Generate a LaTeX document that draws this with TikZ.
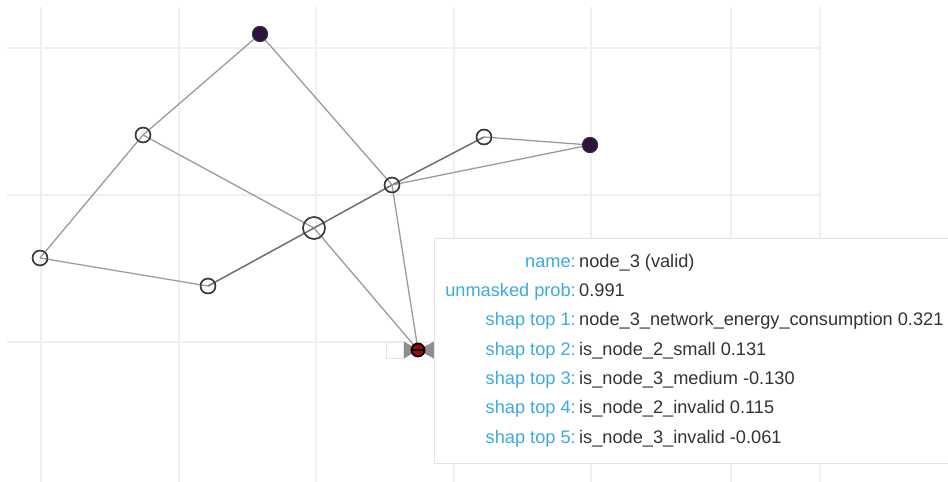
\documentclass[tikz,border=0pt]{standalone}
\usepackage{fontspec}
\setmainfont{Liberation Sans}
\definecolor{gridc}{HTML}{EFEFEF}
\definecolor{edgec}{HTML}{9A9A9A}
\definecolor{edged}{HTML}{6E6E6E}
\definecolor{nodec}{HTML}{3A3A3A}
\definecolor{darkn}{HTML}{2E1242}
\definecolor{labc}{HTML}{3DAAE0}
\definecolor{valc}{HTML}{333333}
\definecolor{tipb}{HTML}{E4E4E4}
\definecolor{selred}{HTML}{A00808}
\definecolor{bowc}{HTML}{8E8E8E}
\begin{document}
\begin{tikzpicture}[x=1pt,y=-1pt,
  gridline/.style={gridc,line width=2pt},
  edge/.style={edgec,line width=1.3pt},
  edgedark/.style={edged,line width=1.5pt},
  opennode/.style={circle,draw=nodec,line width=1.4pt,inner sep=0pt,minimum size=15pt},
  bignode/.style={circle,draw=nodec,line width=1.4pt,inner sep=0pt,minimum size=22pt},
  darknode/.style={circle,draw=black!80,fill=darkn,line width=1pt,inner sep=0pt,minimum size=15pt},
  lab/.style={anchor=base east,text=labc,font=\fontsize{18.2}{20}\selectfont,inner sep=0pt},
  val/.style={anchor=base west,text=valc,font=\fontsize{18.2}{20}\selectfont,inner sep=0pt}
]
\useasboundingbox (0,0) rectangle (948,482);
% grid
\foreach \gx in {41,179,316,454,591,731,820} \draw[gridline] (\gx,7) -- (\gx,482);
\foreach \gy in {48,195,342} \draw[gridline] (7,\gy) -- (820,\gy);
% nodes
\node[darknode] (n0) at (260,34) {};
\node[opennode] (n1) at (143,135) {};
\node[opennode] (n2) at (40,258) {};
\node[opennode] (n3) at (208,286) {};
\node[bignode] (n4) at (314,228) {};
\node[opennode] (n5) at (392,185) {};
\node[opennode] (n6) at (484,137) {};
\node[darknode] (n7) at (590,145) {};
\coordinate (sel) at (418,350);
% edges
\draw[edge] (n0.center) -- (n1.center);
\draw[edge] (n0.center) -- (n5.center);
\draw[edge] (n1.center) -- (n2.center);
\draw[edge] (n1.center) -- (n4.center);
\draw[edge] (n2.center) -- (n3.center);
\draw[edgedark] (n3.center) -- (n4.center);
\draw[edgedark] (n4.center) -- (n5.center);
\draw[edge] (n4.center) -- (sel);
\draw[edge] (n5.center) -- (sel);
\draw[edgedark] (n5.center) -- (n6.center);
\draw[edge] (n5.center) -- (n7.center);
\draw[edge] (n6.center) -- (n7.center);
% redraw nodes on top
\node[darknode] at (n0) {};
\node[opennode] at (n1) {};
\node[opennode] at (n2) {};
\node[opennode] at (n3) {};
\node[bignode] at (n4) {};
\node[opennode] at (n5) {};
\node[opennode] at (n6) {};
\node[darknode] at (n7) {};
% selected node
\node[draw=tipb,fill=white,line width=0.8pt,minimum width=17pt,minimum height=16pt,inner sep=0pt] (selbox) at (395,350) {};
\fill[bowc] (404,341.5) -- (418,350) -- (404,358.5) -- cycle;
\fill[bowc] (434,341.5) -- (418,350) -- (434,358.5) -- cycle;
\node[circle,fill=selred,draw=black,line width=1.8pt,inner sep=0pt,minimum size=13pt] (seln) at (sel) {};
\draw[black,line width=2.2pt] (412,350) -- (424,350);
% tooltip
\node[draw=tipb,fill=white,line width=1pt,anchor=north west,minimum width=530pt,minimum height=225pt,inner sep=0pt] (tip) at (434,238) {};
\node[lab] (l1) at (576,267) {name:};
\node[val] (v1) at (579,267) {node\_3 (valid)};
\node[lab] (l2) at (576,296.3) {unmasked prob:};
\node[val] (v2) at (579,296.3) {0.991};
\node[lab] (l3) at (576,325.7) {shap top 1:};
\node[val] (v3) at (579,325.7) {node\_3\_network\_energy\_consumption 0.321};
\node[lab] (l4) at (576,355) {shap top 2:};
\node[val] (v4) at (579,355) {is\_node\_2\_small 0.131};
\node[lab] (l5) at (576,384.3) {shap top 3:};
\node[val] (v5) at (579,384.3) {is\_node\_3\_medium -0.130};
\node[lab] (l6) at (576,413.7) {shap top 4:};
\node[val] (v6) at (579,413.7) {is\_node\_2\_invalid 0.115};
\node[lab] (l7) at (576,443) {shap top 5:};
\node[val] (v7) at (579,443) {is\_node\_3\_invalid -0.061};
\end{tikzpicture}
\end{document}
